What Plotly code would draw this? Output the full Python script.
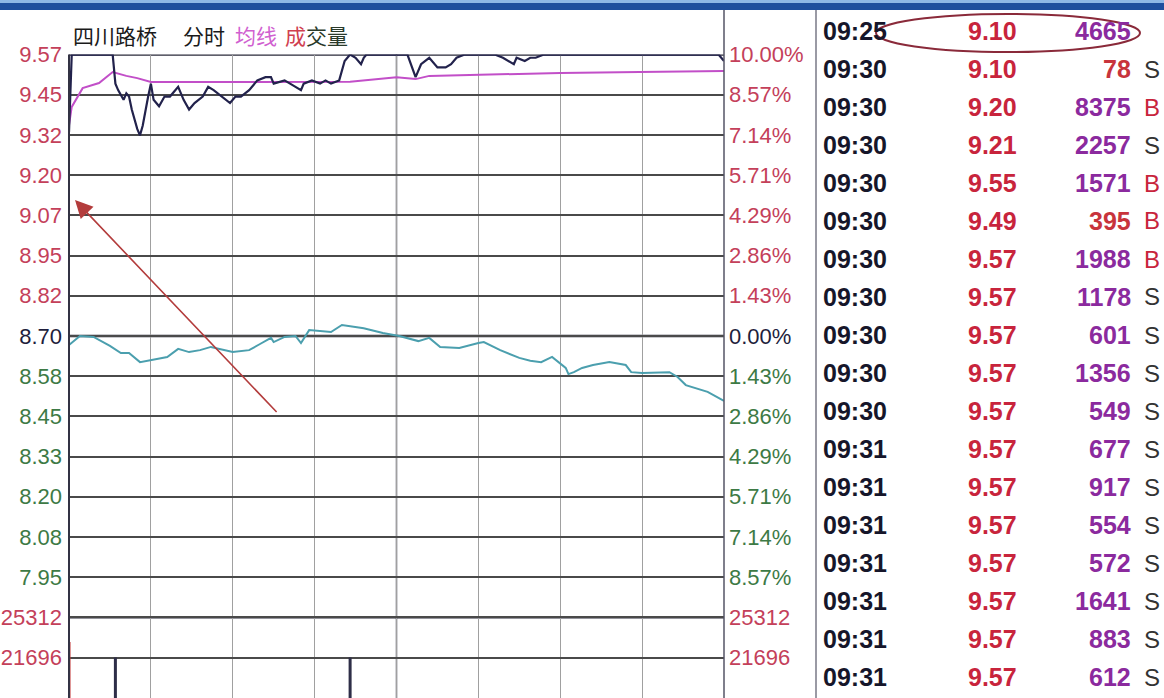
import plotly.graph_objects as go

W, H = 1164, 698
PREV_CLOSE = 8.70
LIMIT_UP = 9.57
STEP = 0.87 / 7

# ---- intraday data (minutes after 09:30) ----
price_min = [0, 1, 16, 17, 18, 20, 21, 22, 23, 25, 26, 27, 29, 30, 31, 33, 35, 37, 40, 42,
             44, 46, 49, 51, 53, 56, 59, 61, 63, 66, 69, 72, 74, 75, 79, 83, 85, 86, 89, 92,
             94, 96, 99, 101, 103, 105, 107, 108, 109, 124, 127, 129, 132, 135, 138, 140, 142, 145, 156, 159,
             161, 163, 164, 167, 169, 171, 174, 178, 238, 240]
price_val = [9.33, 9.57, 9.57, 9.48, 9.46, 9.43, 9.45, 9.44, 9.40, 9.34, 9.32, 9.35, 9.44, 9.48, 9.43, 9.41, 9.44, 9.44, 9.47, 9.43,
             9.40, 9.42, 9.44, 9.47, 9.46, 9.44, 9.42, 9.44, 9.44, 9.46, 9.49, 9.50, 9.50, 9.48, 9.49, 9.47, 9.46, 9.48, 9.49, 9.48,
             9.49, 9.48, 9.49, 9.55, 9.57, 9.56, 9.54, 9.56, 9.57, 9.57, 9.50, 9.54, 9.56, 9.53, 9.53, 9.54, 9.56, 9.57, 9.57, 9.56,
             9.55, 9.54, 9.56, 9.55, 9.56, 9.56, 9.57, 9.57, 9.57, 9.55]

avg_min = [0, 1, 5, 11, 16, 21, 25, 30, 66, 103, 120, 127, 132, 147, 180, 209, 240]
avg_val = [9.352, 9.408, 9.466, 9.482, 9.516, 9.504, 9.497, 9.485, 9.485, 9.486, 9.500, 9.494, 9.504, 9.507, 9.513, 9.516, 9.519]

idx_min = [0, 2, 4, 9, 15, 19, 22, 26, 30, 36, 40, 44, 48, 52, 60, 66, 70, 74, 75, 79,
           83, 85, 88, 96, 100, 108, 115, 121, 128, 132, 136, 143, 150, 152, 158, 165, 169, 173, 177, 182,
           183, 185, 188, 192, 198, 204, 206, 210, 220, 223, 226, 234, 240]
idx_val = [8.672, 8.687, 8.700, 8.697, 8.669, 8.647, 8.647, 8.619, 8.626, 8.635, 8.660, 8.650, 8.656, 8.666, 8.650, 8.656, 8.675, 8.694, 8.681, 8.697,
           8.700, 8.678, 8.718, 8.712, 8.734, 8.724, 8.709, 8.700, 8.684, 8.694, 8.666, 8.663, 8.678, 8.681, 8.656, 8.632, 8.623, 8.619, 8.635, 8.601,
           8.582, 8.588, 8.601, 8.610, 8.619, 8.610, 8.588, 8.585, 8.588, 8.573, 8.548, 8.527, 8.499]

vol_min = [0, 17, 103]
vol_val = [23100, 21700, 21700]
vol_up = [True, False, False]

vol_ticks = [25312, 21696, 18080]

# ---- tick-by-tick table ----
tick_time = ["09:25"] + ["09:30"] * 10 + ["09:31"] * 7
tick_price = [9.10, 9.10, 9.20, 9.21, 9.55, 9.49, 9.57, 9.57, 9.57, 9.57, 9.57, 9.57, 9.57, 9.57, 9.57, 9.57, 9.57, 9.57]
tick_vol = [4665, 78, 8375, 2257, 1571, 395, 1988, 1178, 601, 1356, 549, 677, 917, 554, 572, 1641, 883, 612]
tick_side = ["", "S", "B", "S", "B", "B", "B", "S", "S", "S", "S", "S", "S", "S", "S", "S", "S", "S"]

# ---- styling helpers ----
RED = "#c4405a"
GREEN = "#3d7a45"
DARK = "#1e1e3c"


def px(x):
    return x / W


def py(y):
    return 1 - y / H


price_ticks = [LIMIT_UP - k * STEP for k in range(14)]


def lab_color(v):
    if abs(v - PREV_CLOSE) < 1e-6:
        return DARK
    return RED if v > PREV_CLOSE else GREEN


price_text = ['<span style="color:%s">%.2f</span>' % (lab_color(v), v) for v in price_ticks]
pct_text = ['<span style="color:%s">%.2f%%</span>' % (lab_color(v), abs(v / PREV_CLOSE - 1) * 100)
            for v in price_ticks]
vol_text = ['<span style="color:%s">%d</span>' % (RED, v) for v in vol_ticks]

TOP_PX = 54.5
STEP_PX = 40.2
n_steps = (H - TOP_PX) / STEP_PX
y_range = [LIMIT_UP - n_steps * STEP, LIMIT_UP + 0.0001]
v_top = vol_ticks[0] + 14 * (vol_ticks[0] - vol_ticks[1])
v_bot = vol_ticks[0] - (n_steps - 14) * (vol_ticks[0] - vol_ticks[1])
v_range = [v_bot, v_top]
ydom = [0, 1 - TOP_PX / H]

fig = go.Figure()

fig.add_trace(go.Bar(x=vol_min, y=vol_val, yaxis="y2", width=1.1,
                     marker=dict(color=["#c03030" if u else "#2e2e48" for u in vol_up], line=dict(width=0)),
                     hoverinfo="skip", showlegend=False))
fig.add_trace(go.Scatter(x=idx_min, y=idx_val, mode="lines",
                         line=dict(color="#4b9fae", width=2), hoverinfo="skip", showlegend=False))
fig.add_trace(go.Scatter(x=avg_min, y=avg_val, mode="lines",
                         line=dict(color="#c24fc8", width=2), hoverinfo="skip", showlegend=False))
fig.add_trace(go.Scatter(x=price_min, y=price_val, mode="lines",
                         line=dict(color="#22224c", width=2.2), hoverinfo="skip", showlegend=False))
# anchors for right-hand axes
fig.add_trace(go.Scatter(x=[0], y=[PREV_CLOSE], yaxis="y3", mode="markers",
                         marker=dict(opacity=0), hoverinfo="skip", showlegend=False))
fig.add_trace(go.Scatter(x=[0], y=[vol_ticks[1]], yaxis="y4", mode="markers",
                         marker=dict(opacity=0), hoverinfo="skip", showlegend=False))

tick_font = dict(family="Liberation Sans, Arial, sans-serif", size=22, color=DARK)
grid = dict(showgrid=True, gridcolor="#4a4a4a", gridwidth=1.5, zeroline=False, showline=False, ticks="",
            automargin=False)
nogrid = dict(showgrid=False, zeroline=False, showline=False, ticks="", automargin=False)

fig.update_layout(
    width=W, height=H, autosize=False,
    margin=dict(l=0, r=0, t=0, b=0, pad=0, autoexpand=False),
    paper_bgcolor="white", plot_bgcolor="white",
    showlegend=False,
    xaxis=dict(domain=[px(69), px(724)], range=[0, 240], tickvals=[30, 60, 90, 120, 150, 180, 210],
               showticklabels=False, showgrid=True, gridcolor="#a0a0a0", gridwidth=1,
               zeroline=False, showline=False, ticks="", fixedrange=True, automargin=False),
    yaxis=dict(domain=ydom, range=y_range, tickvals=price_ticks, ticktext=price_text,
               tickfont=tick_font, ticklabelstandoff=6, side="left", **grid),
    yaxis2=dict(domain=ydom, range=v_range, overlaying="y", anchor="x", side="left",
                tickvals=vol_ticks, ticktext=vol_text, tickfont=tick_font, ticklabelstandoff=6, **grid),
    yaxis3=dict(domain=ydom, range=y_range, overlaying="y", anchor="x", side="right",
                tickvals=price_ticks, ticktext=pct_text, tickfont=tick_font, ticklabelstandoff=4, **nogrid),
    yaxis4=dict(domain=ydom, range=v_range, overlaying="y", anchor="x", side="right",
                tickvals=vol_ticks, ticktext=vol_text, tickfont=tick_font, ticklabelstandoff=4, **nogrid),
)

shapes = []
# top window bar
shapes.append(dict(type="rect", xref="paper", yref="paper", x0=0, x1=1, y0=py(3), y1=1,
                   fillcolor="#8fb8e6", line=dict(width=0), layer="above"))
shapes.append(dict(type="rect", xref="paper", yref="paper", x0=0, x1=1, y0=py(10), y1=py(3),
                   fillcolor="#1f4f9e", line=dict(width=0), layer="above"))
# borders
shapes.append(dict(type="line", xref="paper", yref="paper", x0=px(69), x1=px(69), y0=0, y1=py(TOP_PX),
                   line=dict(color="#333344", width=2)))
shapes.append(dict(type="line", xref="paper", yref="paper", x0=px(724), x1=px(724), y0=0, y1=py(10),
                   line=dict(color="#555566", width=1.5)))
shapes.append(dict(type="line", xref="paper", yref="paper", x0=px(816), x1=px(816), y0=0, y1=py(10),
                   line=dict(color="#9a9aa4", width=2)))
shapes.append(dict(type="line", xref="paper", yref="y", x0=px(69), x1=px(724), y0=LIMIT_UP, y1=LIMIT_UP,
                   line=dict(color="#2a2a3a", width=2.5), layer="below"))
shapes.append(dict(type="line", xref="x", yref="y", x0=0, x1=240, y0=PREV_CLOSE, y1=PREV_CLOSE,
                   line=dict(color="#2a2a3a", width=2.5), layer="below"))
shapes.append(dict(type="line", xref="x", yref="y2", x0=0, x1=240, y0=vol_ticks[0], y1=vol_ticks[0],
                   line=dict(color="#2a2a3a", width=2.5), layer="below"))
shapes.append(dict(type="line", xref="x", yref="paper", x0=120, x1=120, y0=0, y1=py(TOP_PX),
                   line=dict(color="#555566", width=1.5), layer="below"))
# circle around auction row
shapes.append(dict(type="circle", xref="paper", yref="paper", x0=px(876), x1=px(1140), y0=py(52), y1=py(14),
                   line=dict(color="#8a2a3a", width=2)))
fig.update_layout(shapes=shapes)

ann = []
cjk = "Noto Sans CJK SC, sans-serif"
for text, x, color in [("四川路桥", 71, "#1a1a1a"), ("分时", 181, "#1a1a1a"), ("均线", 233, "#d060d0"),
                       ("成", 283, "#d04050"), ("交量", 304, "#2a3a2a")]:
    ann.append(dict(text=text, xref="paper", yref="paper", x=px(x), y=py(35), xanchor="left", yanchor="middle",
                    showarrow=False, font=dict(family=cjk, size=21, color=color)))

# red arrow pointing to the opening
ann.append(dict(text="", xref="x", yref="y", x=2.2, y=9.12, axref="x", ayref="y", ax=76.6, ay=8.46,
                showarrow=True, arrowhead=2, arrowsize=2.2, arrowwidth=1.6, arrowcolor="#b33c3c", standoff=0))

tfont = "Liberation Sans, Arial, sans-serif"
for i in range(len(tick_time)):
    yy = py(31 + 38 * i)
    ann.append(dict(text="<b>%s</b>" % tick_time[i], xref="paper", yref="paper", x=px(821), y=yy,
                    xanchor="left", yanchor="middle", showarrow=False,
                    font=dict(family=tfont, size=25, color="#16162a")))
    ann.append(dict(text="<b>%.2f</b>" % tick_price[i], xref="paper", yref="paper", x=px(992), y=yy,
                    xanchor="center", yanchor="middle", showarrow=False,
                    font=dict(family=tfont, size=25, color="#c8243c")))
    vcol = "#8b2a9e" if tick_vol[i] >= 500 else "#c8343c"
    ann.append(dict(text="<b>%d</b>" % tick_vol[i], xref="paper", yref="paper", x=px(1133), y=yy,
                    xanchor="right", yanchor="middle", showarrow=False,
                    font=dict(family=tfont, size=25, color=vcol)))
    if tick_side[i]:
        scol = "#c8243c" if tick_side[i] == "B" else "#333333"
        ann.append(dict(text=tick_side[i], xref="paper", yref="paper", x=px(1142), y=yy,
                        xanchor="left", yanchor="middle", showarrow=False,
                        font=dict(family=tfont, size=24, color=scol)))
fig.update_layout(annotations=ann)

post = ("var d=document.getElementById('{plot_id}');"
        "d.style.position='fixed';d.style.top='0px';d.style.left='0px';"
        "document.documentElement.style.margin='0';document.documentElement.style.overflow='hidden';"
        "document.body.style.margin='0';document.body.style.padding='0';document.body.style.overflow='hidden';")
fig.write_html("out.html", config={"displayModeBar": False}, post_script=post)
